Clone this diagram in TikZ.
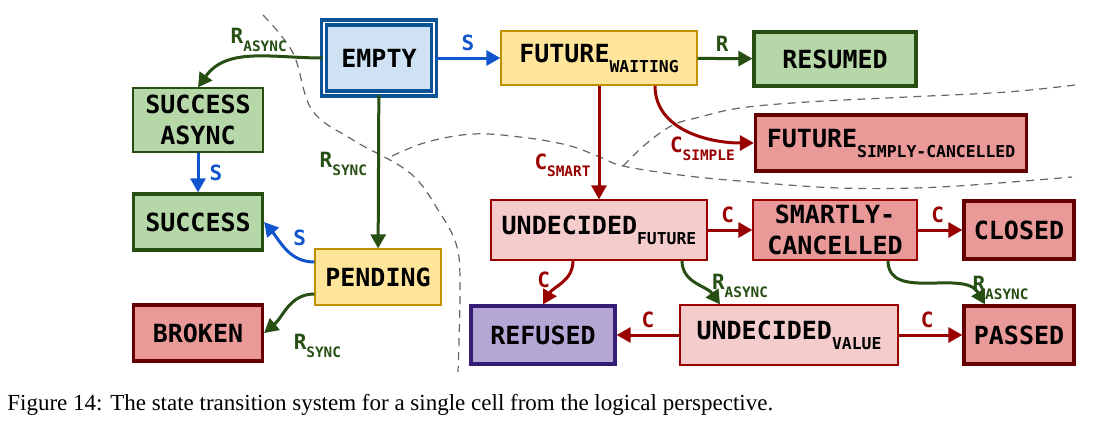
\documentclass[tikz,border=0pt]{standalone}
\usepackage{fontspec}
\setmainfont{Liberation Serif}
\newfontfamily\statefont{DejaVu Sans Mono}
\usetikzlibrary{arrows.meta,positioning}
\definecolor{emptyfill}{HTML}{CFE2F3}
\definecolor{emptyline}{HTML}{0B5394}
\definecolor{yellowfill}{HTML}{FFE599}
\definecolor{yellowline}{HTML}{BF9000}
\definecolor{greenfill}{HTML}{B6D7A8}
\definecolor{greenline}{HTML}{274E13}
\definecolor{redfill}{HTML}{EA9999}
\definecolor{redline}{HTML}{660000}
\definecolor{pinkfill}{HTML}{F4CCCC}
\definecolor{pinkline}{HTML}{990000}
\definecolor{purplefill}{HTML}{B4A7D6}
\definecolor{purpleline}{HTML}{351C75}
\definecolor{sblue}{HTML}{1155CC}
\definecolor{rgreen}{HTML}{274E13}
\definecolor{cred}{HTML}{990000}
\newcommand{\sub}[1]{\raisebox{-5pt}{\fontsize{8.2}{8.2}\selectfont #1}}
\newcommand{\lsub}[1]{\raisebox{-3.8pt}{\fontsize{7.2}{7.2}\selectfont #1}}
\tikzset{
  statebox/.style={rectangle, align=center, inner sep=0pt, line width=0.6pt, font=\statefont\bfseries\fontsize{12.5}{15.5}\selectfont},
  thickbox/.style={statebox, line width=1.6pt},
  trans/.style={-{Triangle[length=7pt,width=7.5pt]}, line width=1.5pt},
  translabel/.style={font=\statefont\bfseries\fontsize{10.5}{10.5}\selectfont, inner sep=1pt},
  region/.style={draw=black!60, dash pattern=on 4pt off 3pt, line width=0.6pt},
}

\begin{document}
\begin{tikzpicture}[x=0.5pt, y=-0.5pt]
    \useasboundingbox (0,0) rectangle (1098,424);
    % regions
    \draw[region] plot[smooth, tension=0.6] coordinates {(263,15) (293,53) (312,110) (353,140) (410,173) (440,213) (457,247) (460,290) (458,372)};
    \draw[region] plot[smooth, tension=0.6] coordinates {(392,156) (427,142) (473,134) (520,137) (567,145) (600,157) (623,166) (680,175) (740,181) (840,188) (940,187) (1072,177)};
    \draw[region] plot[smooth, tension=0.6] coordinates {(623,166) (647,143) (673,125) (700,117) (740,108) (807,102) (907,97) (1007,92) (1075,85)};

    % states
    \node[statebox, fill=emptyfill, draw=emptyline, line width=1.6pt, double=white, double distance=0.9pt, minimum width=55pt, minimum height=35.5pt] (empty) at (379,58) {EMPTY};
    \node[statebox, fill=yellowfill, draw=yellowline, minimum width=98pt, minimum height=27pt] (futw) at (599,58) {FUTURE\sub{WAITING}};
    \node[thickbox, fill=greenfill, draw=greenline, minimum width=81pt, minimum height=27pt] (resumed) at (835,59) {RESUMED};
    \node[thickbox, fill=redfill, draw=redline, minimum width=135.5pt, minimum height=28pt] (futsc) at (891,143) {FUTURE\sub{SIMPLY-CANCELLED}};
    \node[statebox, fill=greenfill, draw=greenline, minimum width=65pt, minimum height=32pt] (sasync) at (198,120) {SUCCESS\\ASYNC};
    \node[thickbox, fill=greenfill, draw=greenline, minimum width=64.5pt, minimum height=28pt] (success) at (198,222) {SUCCESS};
    \node[statebox, fill=yellowfill, draw=yellowline, minimum width=63pt, minimum height=28pt] (pending) at (378,277) {PENDING};
    \node[thickbox, fill=redfill, draw=redline, minimum width=64.5pt, minimum height=28pt] (broken) at (198,333) {BROKEN};
    \node[statebox, fill=pinkfill, draw=pinkline, minimum width=108pt, minimum height=30pt] (undf) at (599,230) {UNDECIDED\sub{FUTURE}};
    \node[statebox, fill=redfill, draw=pinkline, minimum width=82pt, minimum height=30pt] (smartly) at (835,230) {SMARTLY-\\CANCELLED};
    \node[thickbox, fill=redfill, draw=redline, minimum width=55pt, minimum height=29pt] (closed) at (1019,230) {CLOSED};
    \node[thickbox, fill=purplefill, draw=purpleline, minimum width=72pt, minimum height=29pt] (refused) at (543,335) {REFUSED};
    \node[statebox, fill=pinkfill, draw=pinkline, minimum width=109pt, minimum height=30pt] (undv) at (789,335) {UNDECIDED\sub{VALUE}};
    \node[thickbox, fill=redfill, draw=redline, minimum width=55pt, minimum height=29pt] (passed) at (1019,335) {PASSED};

    % transitions
    \draw[trans, draw=rgreen] (empty.west) to[out=180, in=55]
        node[translabel, text=rgreen, pos=0.45, above=1pt] (l1) {R\lsub{ASYNC}} (sasync.north);
    \draw[trans, draw=sblue] (empty) -- (futw)
        node[translabel, text=sblue, pos=0.5, above=2pt] (l2) {S};
    \draw[trans, draw=rgreen] (empty) -- (pending)
        node[translabel, text=rgreen, pos=0.45, left=4pt] (l3) {R\lsub{SYNC}};
    \draw[trans, draw=rgreen] (futw) -- (resumed)
        node[translabel, text=rgreen, pos=0.45, above=2pt] (l4) {R};
    \draw[trans, draw=cred] ([xshift=28pt]futw.south) to[out=-90, in=180]
        node[translabel, text=cred, pos=0.62, anchor=north, yshift=1.5pt] (l5) {C\lsub{SIMPLE}} (futsc.west);
    \draw[trans, draw=cred] (futw) -- (undf)
        node[translabel, text=cred, pos=0.7, left=2.5pt] (l6) {C\lsub{SMART}};
    \draw[trans, draw=sblue] (sasync) -- (success)
        node[translabel, text=sblue, pos=0.5, right=4pt] (l7) {S};
    \draw[trans, draw=sblue] ([yshift=7.5pt]pending.west) to[out=180, in=-50]
        node[translabel, text=sblue, pos=0.5, above right=0pt and 2pt] (l8) {S} (success.east);
    \draw[trans, draw=rgreen] ([yshift=-8.5pt]pending.west) to[out=180, in=40]
        node[translabel, text=rgreen, pos=0.8, below right=4pt and 8pt] (l9) {R\lsub{SYNC}} (broken.east);
    \draw[trans, draw=cred] (undf) -- (smartly)
        node[translabel, text=cred, pos=0.45, above=2pt] (l10) {C};
    \draw[trans, draw=cred] (smartly) -- (closed)
        node[translabel, text=cred, pos=0.45, above=2pt] (l11) {C};
    \draw[trans, draw=cred] ([xshift=-13pt]undf.south) to[out=-90, in=60]
        node[translabel, text=cred, pos=0.4, left=6pt] (l12) {C} (refused.north);
    \draw[trans, draw=rgreen] ([xshift=41.5pt]undf.south) to[out=-90, in=125]
        node[translabel, text=rgreen, pos=0.55, right=5pt] (l13) {R\lsub{ASYNC}} ([xshift=-34.5pt]undv.north);
    \draw[trans, draw=rgreen] ([xshift=26.5pt]smartly.south) to[out=-90, in=120]
        node[translabel, text=rgreen, pos=0.75, right=4pt] (l14) {R\lsub{ASYNC}} ([xshift=-17pt]passed.north);
    \draw[trans, draw=cred] (undv) -- (refused)
        node[translabel, text=cred, pos=0.5, above=2pt] (l15) {C};
    \draw[trans, draw=cred] (undv) -- (passed)
        node[translabel, text=cred, pos=0.45, above=2pt] (l16) {C};

    \node[anchor=west, font=\fontsize{11.5}{13}\selectfont, inner sep=0pt] (caption) at (7,405) {Figure 14: The state transition system for a single cell from the logical perspective.};
\end{tikzpicture}
\end{document}
